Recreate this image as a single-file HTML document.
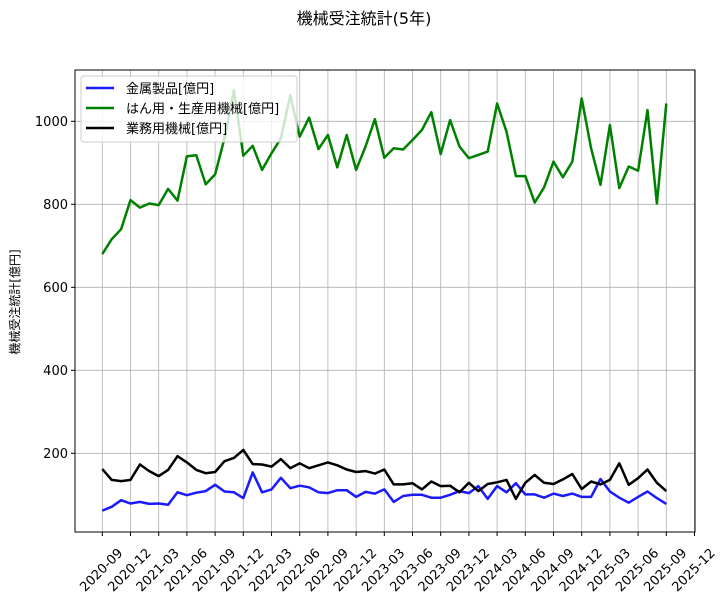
<!DOCTYPE html>
<html><head><meta charset="utf-8"><style>
body{margin:0;background:#fff;}
svg text{font-family:"DejaVu Sans","Noto Sans CJK JP",sans-serif;}
</style></head><body>
<svg id="chart" width="728" height="602" xmlns="http://www.w3.org/2000/svg">
<text x="364" y="24" font-size="16" text-anchor="middle">機械受注統計(5年)</text>
<text transform="translate(19,302) rotate(-90)" font-size="12" text-anchor="middle">機械受注統計[億円]</text>
<g id="grid"></g><g id="series"></g>
<rect x="75" y="70" width="620" height="462" fill="none" stroke="#000" stroke-width="1"/>
<g id="axes"></g>
<g>
<rect x="81" y="76" width="216" height="66" rx="3" fill="#fff" fill-opacity="0.8" stroke="#ccc"/>
<line x1="86" y1="88" x2="114" y2="88" stroke="#1a1aff" stroke-width="2.5"/>
<text x="126" y="93" font-size="13">金属製品[億円]</text>
<line x1="86" y1="108" x2="114" y2="108" stroke="#008000" stroke-width="2.5"/>
<text x="126" y="113" font-size="13">はん用・生産用機械[億円]</text>
<line x1="86" y1="128" x2="114" y2="128" stroke="#000" stroke-width="2.5"/>
<text x="126" y="133" font-size="13">業務用機械[億円]</text>
</g>
</svg>
<script>
const startYear = 2020, startMonth = 9;
const green = [680,716,740,810,792,802,798,837,809,916,918,848,872,959,1075,917,941,883,923,959,1063,963,1009,933,967,889,967,883,939,1005,912,935,932,955,979,1022,921,1003,939,911,919,927,1043,975,868,868,804,841,903,865,903,1055,935,847,991,839,891,881,1027,802,1043];
const black = [162,136,133,136,173,157,145,160,193,178,160,152,155,181,189,208,174,173,168,186,164,176,164,171,178,171,161,155,157,151,161,125,125,128,113,132,121,122,106,129,109,126,130,136,90,129,148,129,126,137,150,114,132,125,136,176,124,140,161,129,109];
const blue = [62,71,87,79,83,78,79,76,106,99,105,109,124,108,106,92,154,106,113,141,116,122,118,106,104,111,111,95,107,103,113,83,97,100,100,93,93,100,109,104,121,90,121,106,128,101,101,93,103,97,103,95,95,138,108,93,81,95,108,92,78];
const yTicks = [200,400,600,800,1000];
const xTickLabels = ["2020-09","2020-12","2021-03","2021-06","2021-09","2021-12","2022-03","2022-06","2022-09","2022-12","2023-03","2023-06","2023-09","2023-12","2024-03","2024-06","2024-09","2024-12","2025-03","2025-06","2025-09","2025-12"];

const NS="http://www.w3.org/2000/svg";
function xs(i){return 102.3 + i*9.4;}
function ys(v){return 536.3 - v*0.415;}
function mk(tag,attrs,parent){const e=document.createElementNS(NS,tag);for(const k in attrs)e.setAttribute(k,attrs[k]);parent.appendChild(e);return e;}
const grid=document.getElementById('grid'), axes=document.getElementById('axes'), ser=document.getElementById('series');
yTicks.forEach(v=>{
  const g=mk('line',{x1:75,x2:695,y1:ys(v),y2:ys(v),stroke:'#b0b0b0','stroke-width':0.8},grid);
  
  
  mk('line',{x1:71,x2:75,y1:ys(v),y2:ys(v),stroke:'#000'},axes);
  const t=mk('text',{x:68,y:ys(v)+4.5,'font-size':13,'text-anchor':'end'},axes);
  t.textContent=v;
  
  
});
xTickLabels.forEach((lab,k)=>{
  const x=xs(k*3);
  const g=mk('line',{x1:x,x2:x,y1:70,y2:532,stroke:'#b0b0b0','stroke-width':0.8},grid);
  
  
  mk('line',{x1:x,x2:x,y1:532,y2:536,stroke:'#000'},axes);
  const t=mk('text',{transform:`translate(${x+2},${573}) rotate(-45)`,'font-size':13,'text-anchor':'middle'},axes);
  t.textContent=lab;
  
  
});
function line(data,color,name){
  const p=mk('polyline',{points:data.map((v,i)=>xs(i).toFixed(1)+','+ys(v).toFixed(1)).join(' '),fill:'none',stroke:color,'stroke-width':2.5,'stroke-linejoin':'round'},ser);
  
  
}
line(green,'#008000','series-general-machinery');
line(blue,'#1a1aff','series-metal');
line(black,'#000','series-business-machinery');
</script>
</body></html>
